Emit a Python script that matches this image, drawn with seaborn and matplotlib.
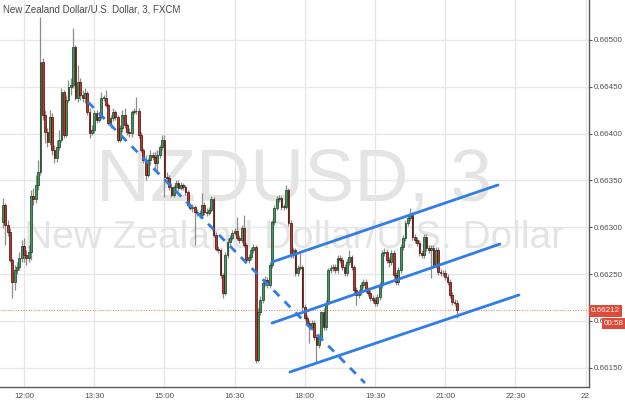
import matplotlib
matplotlib.use("Agg")
import matplotlib.pyplot as plt
import numpy as np
import pandas as pd
import seaborn as sns

# ---------------- data ----------------
# bar time in minutes after 12:00 (3-minute candles)
minutes = list(range(-27, 558, 3))

opens = [0.66306, 0.66324, 0.66302, 0.66295, 0.66265, 0.66241, 0.66254, 0.66258, 0.66267, 0.66280,
         0.66270, 0.66267, 0.66273, 0.66333, 0.66330, 0.66345, 0.66359, 0.66476, 0.66420, 0.66402,
         0.66391, 0.66418, 0.66382, 0.66374, 0.66386, 0.66393, 0.66444, 0.66398, 0.66436, 0.66450,
         0.66452, 0.66492, 0.66438, 0.66455, 0.66441, 0.66438, 0.66443, 0.66423, 0.66401,
         0.66404, 0.66422, 0.66414, 0.66418, 0.66438, 0.66438, 0.66431, 0.66411, 0.66417, 0.66423,
         0.66418, 0.66393, 0.66406, 0.66420, 0.66409, 0.66402, 0.66401, 0.66423, 0.66424, 0.66424,
         0.66398, 0.66382, 0.66372, 0.66356, 0.66372, 0.66377, 0.66375, 0.66369, 0.66377, 0.66386,
         0.66393, 0.66354, 0.66353, 0.66343, 0.66334, 0.66343, 0.66347, 0.66342, 0.66345, 0.66343,
         0.66338, 0.66324, 0.66320, 0.66322, 0.66316, 0.66315, 0.66313, 0.66324, 0.66316, 0.66315,
         0.66318, 0.66330, 0.66292, 0.66277, 0.66276, 0.66249, 0.66230, 0.66270, 0.66284, 0.66288,
         0.66294, 0.66296, 0.66288, 0.66286, 0.66299, 0.66281, 0.66265, 0.66268, 0.66276, 0.66279,
         0.66158, 0.66209, 0.66222, 0.66240, 0.66244, 0.66238, 0.66260, 0.66306,
         0.66320, 0.66330, 0.66331, 0.66322, 0.66322, 0.66340, 0.66304, 0.66270, 0.66276, 0.66251,
         0.66256, 0.66257, 0.66215, 0.66203, 0.66198, 0.66193, 0.66198, 0.66183, 0.66174, 0.66183,
         0.66209, 0.66193, 0.66219, 0.66254, 0.66256, 0.66257, 0.66254, 0.66267, 0.66265, 0.66257,
         0.66251, 0.66263, 0.66268, 0.66257, 0.66233, 0.66228, 0.66231,
         0.66238, 0.66241, 0.66233, 0.66230, 0.66224, 0.66222, 0.66219, 0.66225, 0.66238, 0.66272,
         0.66273, 0.66265, 0.66263, 0.66272, 0.66249, 0.66241, 0.66254, 0.66279, 0.66288, 0.66304,
         0.66310, 0.66313, 0.66289, 0.66286, 0.66283, 0.66272, 0.66270, 0.66289, 0.66278, 0.66276,
         0.66278, 0.66260, 0.66276, 0.66252, 0.66251, 0.66251, 0.66247, 0.66241, 0.66228, 0.66220,
         0.66219]

closes = [0.66324, 0.66302, 0.66295, 0.66265, 0.66241, 0.66254, 0.66258, 0.66267, 0.66280, 0.66270,
          0.66267, 0.66273, 0.66333, 0.66330, 0.66345, 0.66359, 0.66476, 0.66420, 0.66402, 0.66391,
          0.66418, 0.66382, 0.66374, 0.66386, 0.66393, 0.66444, 0.66398, 0.66436, 0.66450, 0.66452,
          0.66492, 0.66438, 0.66455, 0.66441, 0.66438, 0.66443, 0.66423, 0.66401, 0.66404,
          0.66422, 0.66414, 0.66418, 0.66438, 0.66438, 0.66431, 0.66411, 0.66417, 0.66423, 0.66418,
          0.66393, 0.66406, 0.66420, 0.66409, 0.66402, 0.66401, 0.66423, 0.66424, 0.66424, 0.66398,
          0.66382, 0.66372, 0.66356, 0.66372, 0.66377, 0.66375, 0.66369, 0.66377, 0.66386, 0.66393,
          0.66354, 0.66353, 0.66343, 0.66334, 0.66343, 0.66347, 0.66342, 0.66345, 0.66343, 0.66338,
          0.66324, 0.66320, 0.66322, 0.66316, 0.66315, 0.66313, 0.66324, 0.66316, 0.66315, 0.66318,
          0.66330, 0.66292, 0.66277, 0.66276, 0.66249, 0.66230, 0.66270, 0.66284, 0.66288, 0.66294,
          0.66296, 0.66288, 0.66286, 0.66299, 0.66281, 0.66265, 0.66268, 0.66276, 0.66279, 0.66158,
          0.66209, 0.66222, 0.66240, 0.66244, 0.66238, 0.66260, 0.66306, 0.66320,
          0.66330, 0.66331, 0.66322, 0.66322, 0.66340, 0.66304, 0.66270, 0.66276, 0.66251, 0.66256,
          0.66257, 0.66215, 0.66203, 0.66198, 0.66193, 0.66198, 0.66183, 0.66174, 0.66183, 0.66209,
          0.66193, 0.66219, 0.66254, 0.66256, 0.66257, 0.66254, 0.66267, 0.66265, 0.66257, 0.66251,
          0.66263, 0.66268, 0.66257, 0.66233, 0.66228, 0.66231, 0.66238,
          0.66241, 0.66233, 0.66230, 0.66224, 0.66222, 0.66219, 0.66225, 0.66238, 0.66272, 0.66273,
          0.66265, 0.66263, 0.66272, 0.66249, 0.66241, 0.66254, 0.66279, 0.66288, 0.66304, 0.66310,
          0.66313, 0.66289, 0.66286, 0.66283, 0.66272, 0.66270, 0.66289, 0.66278, 0.66276, 0.66278,
          0.66260, 0.66276, 0.66252, 0.66251, 0.66251, 0.66247, 0.66241, 0.66228, 0.66220, 0.66219,
          0.66212]

highs = [0.66331, 0.66326, 0.66308, 0.66299, 0.66267, 0.66260, 0.66263, 0.66273, 0.66286, 0.66288,
         0.66276, 0.66281, 0.66340, 0.66342, 0.66356, 0.66372, 0.66525, 0.66481, 0.66425, 0.66406,
         0.66425, 0.66422, 0.66388, 0.66393, 0.66404, 0.66449, 0.66447, 0.66441, 0.66457, 0.66459,
         0.66513, 0.66495, 0.66473, 0.66459, 0.66447, 0.66449, 0.66445, 0.66427, 0.66409,
         0.66425, 0.66425, 0.66423, 0.66444, 0.66441, 0.66447, 0.66433, 0.66420, 0.66427, 0.66425,
         0.66420, 0.66409, 0.66425, 0.66427, 0.66411, 0.66406, 0.66425, 0.66427, 0.66439, 0.66427,
         0.66402, 0.66385, 0.66377, 0.66374, 0.66382, 0.66380, 0.66380, 0.66382, 0.66388, 0.66398,
         0.66398, 0.66359, 0.66356, 0.66347, 0.66345, 0.66350, 0.66350, 0.66348, 0.66347, 0.66345,
         0.66340, 0.66326, 0.66325, 0.66324, 0.66319, 0.66318, 0.66337, 0.66327, 0.66320, 0.66322,
         0.66333, 0.66332, 0.66295, 0.66280, 0.66278, 0.66251, 0.66273, 0.66288, 0.66292, 0.66297,
         0.66299, 0.66311, 0.66292, 0.66302, 0.66313, 0.66283, 0.66271, 0.66279, 0.66282, 0.66281,
         0.66214, 0.66226, 0.66244, 0.66248, 0.66247, 0.66263, 0.66308, 0.66324,
         0.66333, 0.66334, 0.66333, 0.66325, 0.66345, 0.66342, 0.66308, 0.66279, 0.66278, 0.66260,
         0.66272, 0.66260, 0.66218, 0.66206, 0.66201, 0.66201, 0.66201, 0.66186, 0.66186, 0.66211,
         0.66214, 0.66222, 0.66256, 0.66260, 0.66261, 0.66261, 0.66270, 0.66270, 0.66268, 0.66261,
         0.66266, 0.66276, 0.66270, 0.66260, 0.66236, 0.66234, 0.66241,
         0.66245, 0.66245, 0.66236, 0.66233, 0.66228, 0.66225, 0.66229, 0.66241, 0.66276, 0.66278,
         0.66277, 0.66268, 0.66276, 0.66276, 0.66252, 0.66257, 0.66282, 0.66292, 0.66308, 0.66313,
         0.66320, 0.66316, 0.66293, 0.66289, 0.66286, 0.66276, 0.66293, 0.66293, 0.66281, 0.66281,
         0.66281, 0.66279, 0.66279, 0.66255, 0.66254, 0.66254, 0.66250, 0.66245, 0.66231, 0.66223,
         0.66222]

lows = [0.66299, 0.66281, 0.66291, 0.66263, 0.66224, 0.66233, 0.66250, 0.66254, 0.66263, 0.66263,
        0.66260, 0.66263, 0.66265, 0.66324, 0.66326, 0.66340, 0.66356, 0.66414, 0.66390, 0.66386,
        0.66388, 0.66377, 0.66369, 0.66370, 0.66382, 0.66391, 0.66395, 0.66396, 0.66434, 0.66441,
        0.66449, 0.66436, 0.66434, 0.66436, 0.66434, 0.66433, 0.66420, 0.66395, 0.66398,
        0.66401, 0.66411, 0.66412, 0.66416, 0.66435, 0.66428, 0.66409, 0.66406, 0.66413, 0.66414,
        0.66391, 0.66391, 0.66402, 0.66406, 0.66398, 0.66396, 0.66396, 0.66421, 0.66421, 0.66395,
        0.66380, 0.66369, 0.66350, 0.66354, 0.66366, 0.66372, 0.66361, 0.66359, 0.66374, 0.66382,
        0.66332, 0.66349, 0.66340, 0.66332, 0.66332, 0.66340, 0.66339, 0.66340, 0.66340, 0.66334,
        0.66322, 0.66318, 0.66316, 0.66281, 0.66312, 0.66310, 0.66311, 0.66313, 0.66312, 0.66313,
        0.66316, 0.66289, 0.66275, 0.66272, 0.66246, 0.66224, 0.66228, 0.66267, 0.66281, 0.66286,
        0.66292, 0.66286, 0.66283, 0.66283, 0.66279, 0.66262, 0.66262, 0.66265, 0.66272, 0.66155,
        0.66156, 0.66206, 0.66219, 0.66237, 0.66235, 0.66235, 0.66256, 0.66302,
        0.66318, 0.66327, 0.66318, 0.66318, 0.66319, 0.66301, 0.66267, 0.66267, 0.66248, 0.66248,
        0.66254, 0.66211, 0.66201, 0.66194, 0.66176, 0.66190, 0.66179, 0.66155, 0.66171, 0.66179,
        0.66190, 0.66190, 0.66217, 0.66251, 0.66253, 0.66251, 0.66251, 0.66262, 0.66254, 0.66248,
        0.66248, 0.66260, 0.66254, 0.66230, 0.66217, 0.66224, 0.66228,
        0.66235, 0.66230, 0.66226, 0.66221, 0.66219, 0.66216, 0.66216, 0.66222, 0.66235, 0.66269,
        0.66262, 0.66257, 0.66260, 0.66246, 0.66238, 0.66238, 0.66251, 0.66276, 0.66285, 0.66301,
        0.66307, 0.66286, 0.66283, 0.66280, 0.66269, 0.66267, 0.66267, 0.66275, 0.66272, 0.66246,
        0.66256, 0.66256, 0.66249, 0.66248, 0.66248, 0.66244, 0.66238, 0.66224, 0.66217, 0.66216,
        0.66203]

# drawn trend lines (time in minutes after 12:00, price)
dash_t = [82.0, 437.2]
dash_p = [0.664338, 0.661335]
top_t = [317.9, 607.7]
top_p = [0.662628, 0.663451]
mid_t = [317.9, 610.2]
mid_p = [0.661976, 0.662820]
bot_t = [341.0, 634.6]
bot_p = [0.661453, 0.662276]

last_price = 0.66212
countdown = "00:58"
title = "New Zealand Dollar/U.S. Dollar, 3, FXCM"
wm_symbol = "NZDUSD, 3"
wm_name = "New Zealand Dollar/U.S. Dollar"

x_ticks = [0, 90, 180, 270, 360, 450, 540, 630, 720]
x_labels = ["12:00", "13:30", "15:00", "16:30", "18:00", "19:30", "21:00", "22:30", "22"]
y_ticks = [0.6615, 0.6620, 0.6625, 0.6630, 0.6635, 0.6640, 0.6645, 0.6650]

# ---------------- plot ----------------
sns.set_theme(style="white")
plt.rcParams['font.family'] = ['Liberation Sans', 'DejaVu Sans']

df = pd.DataFrame(dict(t=minutes, o=opens, h=highs, l=lows, c=closes))

fig = plt.figure(figsize=(6.25, 4.03), dpi=100)
fig.patch.set_facecolor('white')
ax = fig.add_axes([0, 16 / 403, 589 / 625, 387 / 403])
ax.set_facecolor('white')

ax.set_xlim(-30.8, 724.4)
ax.set_ylim(0.661293, 0.665427)

# watermark
ax.text(0.5, 0.483, wm_symbol, transform=ax.transAxes, ha='center', va='baseline',
        fontsize=54, color='#e4e4e4', zorder=1)
ax.text(0.5, 0.359, wm_name, transform=ax.transAxes, ha='center', va='baseline',
        fontsize=28, color='#e4e4e4', zorder=1)

# candles
up = df.c >= df.o
lo = np.minimum(df.l, np.minimum(df.o, df.c))
hi = np.maximum(df.h, np.maximum(df.o, df.c))
ax.vlines(df.t, lo, hi, color='#8c8c8c', lw=0.9, zorder=3)
bottom = np.minimum(df.o, df.c)
height = np.maximum((df.c - df.o).abs(), 0.000006)
ax.bar(df.t[up], height[up], bottom=bottom[up], width=2.3, color='#3f9a60',
       edgecolor='#163d20', linewidth=0.5, zorder=4)
ax.bar(df.t[~up], height[~up], bottom=bottom[~up], width=2.3, color='#c2362a',
       edgecolor='#420b06', linewidth=0.5, zorder=4)

# last price dotted line
ax.axhline(last_price, color='#f08a7a', ls=(0, (1, 1.3)), lw=0.8, zorder=2)

# trend lines
blue = '#2f7de8'
ax.plot(dash_t, dash_p, color=blue, lw=2.0, ls=(0, (3, 2.6)), zorder=5, solid_capstyle='butt')
for tt, pp in [(top_t, top_p), (mid_t, mid_p), (bot_t, bot_p)]:
    sns.lineplot(x=tt, y=pp, ax=ax, color=blue, linewidth=2.0, zorder=5)

# axes styling
ax.set_xticks(x_ticks)
ax.set_xticklabels(x_labels)
ax.set_yticks(y_ticks)
ax.set_yticklabels([f"{v:.5f}" for v in y_ticks])
ax.yaxis.tick_right()
ax.grid(True, color='#e6e6e6', lw=0.9)
ax.set_axisbelow(True)
for s in ['top', 'left']:
    ax.spines[s].set_visible(False)
for s in ['right', 'bottom']:
    ax.spines[s].set_visible(True)
    ax.spines[s].set_color('#5a5a5a')
    ax.spines[s].set_linewidth(1.0)
ax.tick_params(axis='y', which='both', right=True, left=False, length=2, width=0.8,
               color='#5a5a5a', labelsize=5.8, labelcolor='#505050', pad=1.5)
ax.tick_params(axis='x', which='both', length=0, labelsize=5.8, labelcolor='#505050', pad=4)
ax.set_xlabel('')
ax.set_ylabel('')

# title
fig.text(3 / 625, 1 - 12 / 403, title, ha='left', va='baseline', fontsize=7,
         color='#4a4a4a')

# price / countdown labels
fig.text(591 / 625, 1 - 311 / 403, f"{last_price:.5f}", ha='left', va='center',
         fontsize=5.8, color='white',
         bbox=dict(boxstyle='square,pad=0.28', fc='#e04a38', ec='none'), zorder=10)
fig.text(604 / 625, 1 - 323.5 / 403, countdown, ha='left', va='center',
         fontsize=5.8, color='white',
         bbox=dict(boxstyle='square,pad=0.28', fc='#e04a38', ec='none'), zorder=10)

fig.savefig('out.png', dpi=100, facecolor='white')
